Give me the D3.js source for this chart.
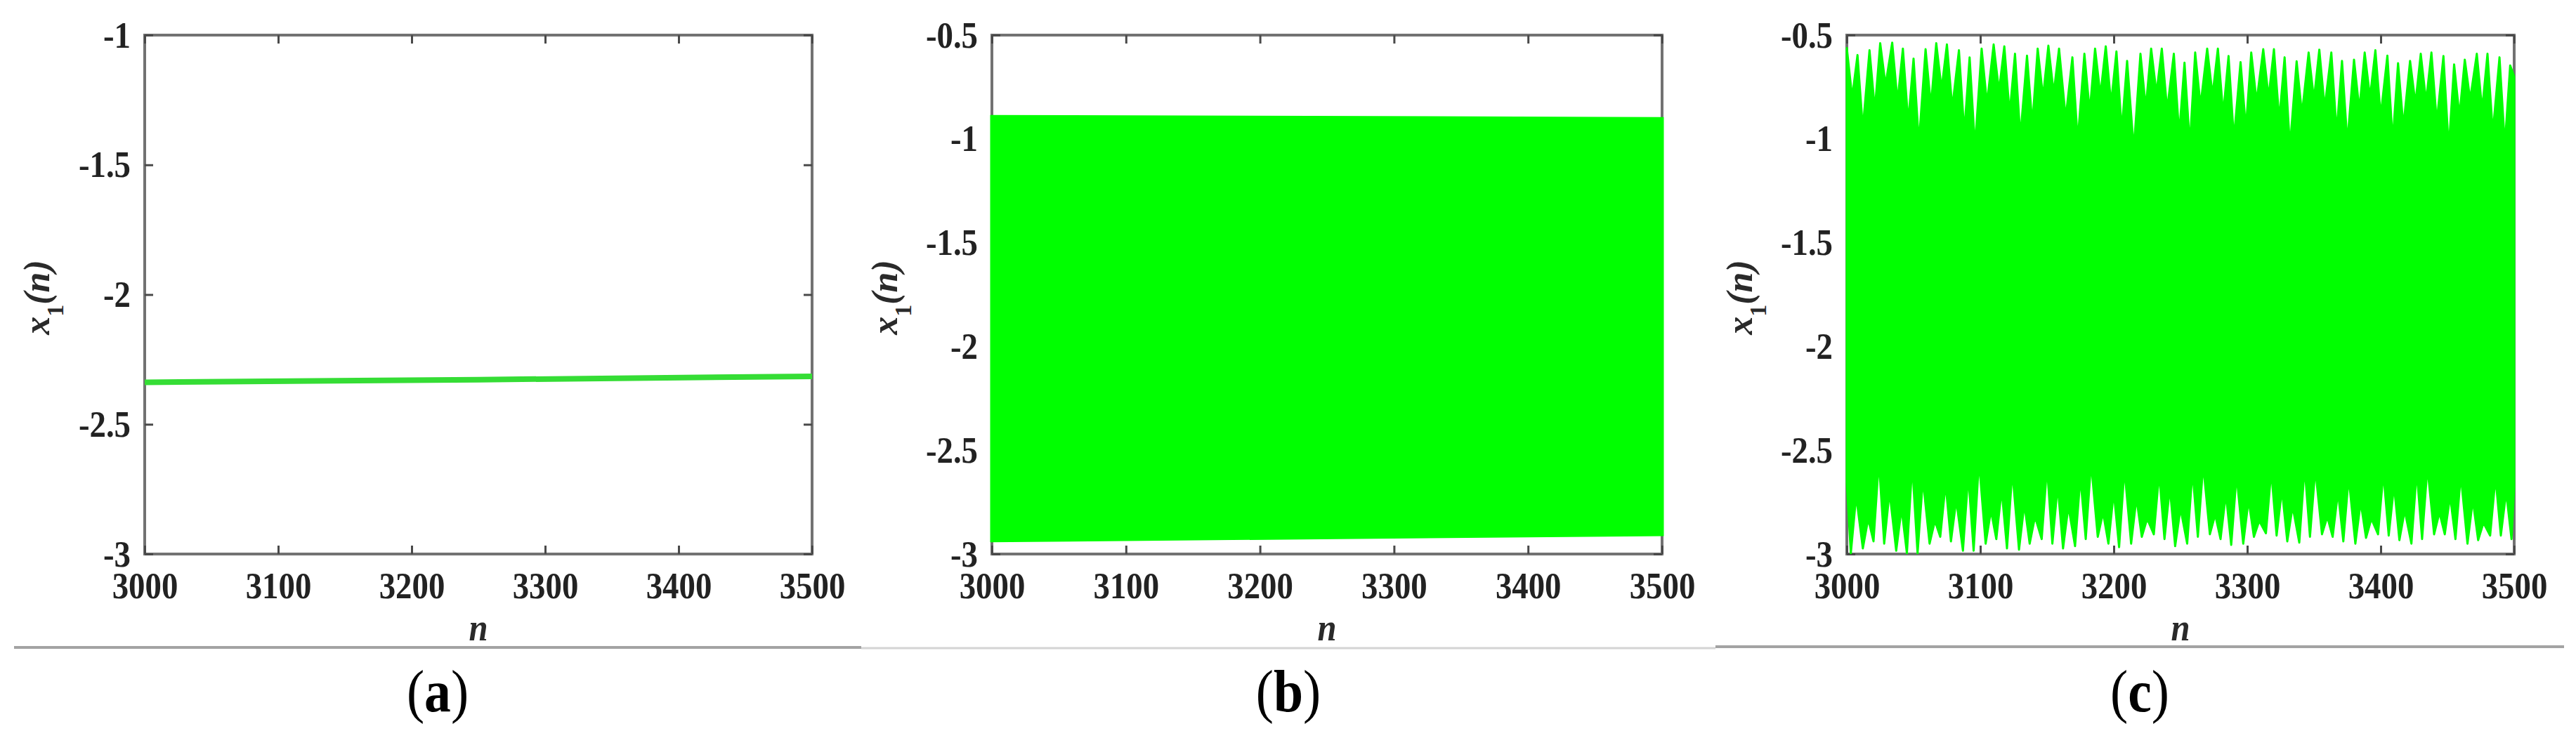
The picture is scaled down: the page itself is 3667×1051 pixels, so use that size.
<!DOCTYPE html>
<html><head><meta charset="utf-8">
<script src="https://cdn.jsdelivr.net/npm/d3@7"></script>
<style>html,body{margin:0;padding:0;background:#fff;} svg{display:block}</style>
</head><body>
<svg id="chart" width="3667" height="1051"></svg>
<script>
// ---------------- data ----------------
const xDomain = [3000, 3500];
const xTicks = [3000, 3100, 3200, 3300, 3400, 3500];
const xTickLabels = ["3000", "3100", "3200", "3300", "3400", "3500"];
const yTicksA = [-3, -2.5, -2, -1.5, -1];
const yTickLabelsA = ["-3", "-2.5", "-2", "-1.5", "-1"];
const yTicksBC = [-3, -2.5, -2, -1.5, -1, -0.5];
const yTickLabelsBC = ["-3", "-2.5", "-2", "-1.5", "-1", "-0.5"];
const panelLabels = ["a", "b", "c"];
const xAxisTitle = "n";

// (a) fixed point: nearly flat line
const aN = [3000, 3250, 3500];
const aX = [-2.338, -2.328, -2.315];

// (b) period-2 oscillation: upper / lower envelopes
const bN = [3000, 3500];
const bUpper = [-0.893, -0.903];
const bLower = [-2.935, -2.905];

// (c) quasi-periodic oscillation: upper spikes and gaps, lower spikes and gaps
const cPeakN = [3000,3008,3017,3025,3034,3042,3050,3059,3067,3075,3084,3092,3101,3110,3118,3126,3135,3143,3151,3159,
  3169,3178,3186,3194,3202,3210,3220,3228,3236,3245,3253,3261,3270,3278,3286,3295,3303,3312,3320,3328,
  3337,3346,3354,3363,3371,3380,3388,3396,3405,3413,3422,3430,3438,3447,3455,3463,3472,3480,3489,3497];
const cPeakX = [-0.562,-0.596,-0.573,-0.539,-0.536,-0.565,-0.613,-0.568,-0.539,-0.545,
  -0.573,-0.607,-0.565,-0.545,-0.554,-0.590,-0.599,-0.565,-0.551,-0.565,
  -0.607,-0.590,-0.565,-0.554,-0.579,-0.624,-0.590,-0.565,-0.565,-0.590,
  -0.633,-0.584,-0.565,-0.565,-0.601,-0.630,-0.584,-0.568,-0.568,-0.607,
  -0.626,-0.584,-0.570,-0.584,-0.624,-0.618,-0.584,-0.573,-0.599,-0.635,
  -0.624,-0.590,-0.584,-0.601,-0.641,-0.618,-0.590,-0.590,-0.607,-0.646];
const cGapN = [3004,3012,3021,3029,3038,3046,3054,3063,3071,3079,3088,3096,3105,3114,3122,3130,3139,3147,3155,3164,
  3173,3182,3190,3198,3206,3215,3224,3232,3240,3249,3257,3265,3274,3282,3290,3299,3307,3316,3324,3332,
  3341,3350,3358,3367,3375,3384,3392,3400,3409,3417,3426,3434,3442,3451,3459,3467,3476,3484,3493,3500];
const cGapX = [-0.80,-0.95,-0.86,-0.74,-0.82,-0.92,-1.02,-0.84,-0.76,-0.85,
  -0.97,-1.04,-0.83,-0.77,-0.88,-0.99,-0.93,-0.80,-0.78,-0.90,
  -1.01,-0.87,-0.79,-0.83,-0.96,-1.05,-0.85,-0.78,-0.86,-0.98,
  -1.03,-0.84,-0.79,-0.88,-1.00,-0.95,-0.82,-0.80,-0.91,-1.04,
  -0.88,-0.81,-0.85,-0.97,-1.02,-0.86,-0.80,-0.89,-1.01,-0.94,
  -0.83,-0.82,-0.92,-1.05,-0.89,-0.81,-0.86,-0.97,-1.03,-0.70];
const cTroughN = [3003,3012,3020,3028,3037,3045,3053,3062,3070,3078,3087,3095,3104,3112,3120,3129,3137,3146,3154,3162,
  3171,3179,3188,3196,3204,3213,3221,3230,3238,3246,3255,3263,3272,3280,3288,3297,3305,3314,3322,3330,
  3339,3347,3356,3364,3372,3381,3389,3398,3406,3414,3423,3431,3440,3448,3456,3465,3473,3482,3490,3498];
const cTroughX = [-2.996,-2.973,-2.939,-2.950,-2.984,-2.996,-2.996,-2.950,-2.917,-2.939,
  -2.984,-2.984,-2.950,-2.928,-2.973,-2.979,-2.950,-2.928,-2.950,-2.973,
  -2.962,-2.928,-2.917,-2.950,-2.967,-2.950,-2.917,-2.905,-2.928,-2.962,
  -2.950,-2.917,-2.905,-2.928,-2.956,-2.950,-2.917,-2.900,-2.911,-2.939,
  -2.945,-2.917,-2.905,-2.917,-2.939,-2.950,-2.922,-2.905,-2.911,-2.933,
  -2.950,-2.928,-2.905,-2.905,-2.928,-2.950,-2.933,-2.911,-2.911,-2.928];
const cCrestN = [3000,3007,3016,3024,3032,3041,3049,3057,3066,3074,3082,3091,3099,3108,3116,3124,3133,3141,3150,3158,
  3166,3175,3183,3192,3200,3208,3217,3225,3234,3242,3250,3259,3267,3276,3284,3292,3301,3309,3318,3326,
  3334,3343,3351,3360,3368,3376,3385,3393,3402,3410,3418,3427,3435,3444,3452,3460,3469,3477,3486,3494,3500];
const cCrestX = [-2.66,-2.72,-2.83,-2.55,-2.70,-2.78,-2.57,-2.64,-2.84,-2.66,
  -2.74,-2.62,-2.55,-2.79,-2.69,-2.60,-2.76,-2.82,-2.58,-2.67,
  -2.77,-2.63,-2.56,-2.80,-2.70,-2.59,-2.73,-2.83,-2.61,-2.68,
  -2.78,-2.60,-2.57,-2.81,-2.71,-2.62,-2.74,-2.84,-2.60,-2.69,
  -2.77,-2.58,-2.59,-2.82,-2.70,-2.63,-2.75,-2.83,-2.61,-2.67,
  -2.79,-2.60,-2.58,-2.80,-2.72,-2.62,-2.74,-2.85,-2.63,-2.70,-2.68];

// ---------------- layout ----------------
const layout = [
  {left:206,  right:1156, top:50, bottom:789, yDomain:[-3,-1],   yTicks:yTicksA,  yLabels:yTickLabelsA,  ylX:70,   ruleX:[20,1226],   ruleY:922, ruleColor:"#a3a3a3", ruleW:4},
  {left:1412, right:2366, top:50, bottom:789, yDomain:[-3,-0.5], yTicks:yTicksBC, yLabels:yTickLabelsBC, ylX:1277, ruleX:[1226,2442], ruleY:923, ruleColor:"#d4d4d4", ruleW:3},
  {left:2629, right:3579, top:50, bottom:789, yDomain:[-3,-0.5], yTicks:yTicksBC, yLabels:yTickLabelsBC, ylX:2494, ruleX:[2442,3650], ruleY:921, ruleColor:"#a3a3a3", ruleW:4}
];
const GREEN = "#00ff00";
const FONT = "'Liberation Serif', 'Times New Roman', serif";
const SQ = 0.9;

const svg = d3.select("#chart");

function squeeze(sel) {
  sel.each(function() {
    const w = this.getComputedTextLength();
    if (w > 0) d3.select(this).attr("textLength", w * SQ).attr("lengthAdjust", "spacingAndGlyphs");
  });
}

function styleAxis(g) {
  g.select(".domain").remove();
  g.selectAll(".tick line").attr("stroke", "#4a4a4a").attr("stroke-width", 3);
  g.selectAll("text").attr("fill", "#222").style("font-family", FONT).style("font-weight", "bold").style("font-size", "52px");
}

layout.forEach((L, i) => {
  const x = d3.scaleLinear().domain(xDomain).range([L.left, L.right]);
  const y = d3.scaleLinear().domain(L.yDomain).range([L.bottom, L.top]);
  const g = svg.append("g");

  // box
  g.append("rect").attr("x", L.left).attr("y", L.top)
    .attr("width", L.right - L.left).attr("height", L.bottom - L.top)
    .attr("fill", "none").attr("stroke", "#727272").attr("stroke-width", 4);

  // axes (ticks inward, mirrored)
  const gB = g.append("g").attr("transform", `translate(0,${L.bottom})`)
    .call(d3.axisBottom(x).tickValues(xTicks).tickFormat((d, k) => xTickLabels[k]).tickSize(-12).tickSizeOuter(0));
  styleAxis(gB);
  gB.selectAll("text").attr("y", 63).attr("dy", 0);
  squeeze(gB.selectAll("text"));

  const gT = g.append("g").attr("transform", `translate(0,${L.top})`)
    .call(d3.axisTop(x).tickValues(xTicks).tickFormat("").tickSize(-12).tickSizeOuter(0));
  styleAxis(gT);

  const gL = g.append("g").attr("transform", `translate(${L.left},0)`)
    .call(d3.axisLeft(y).tickValues(L.yTicks).tickFormat((d, k) => L.yLabels[k]).tickSize(-12).tickSizeOuter(0));
  styleAxis(gL);
  gL.selectAll("text").attr("x", -20).attr("dy", "0.33em");
  squeeze(gL.selectAll("text"));

  const gR = g.append("g").attr("transform", `translate(${L.right},0)`)
    .call(d3.axisRight(y).tickValues(L.yTicks).tickFormat("").tickSize(-12).tickSizeOuter(0));
  styleAxis(gR);

  // data
  if (i === 0) {
    const line = d3.line().x((d, k) => x(aN[k])).y(d => y(d));
    g.append("path").attr("d", line(aX)).attr("fill", "none")
      .attr("stroke", "#35dd35").attr("stroke-width", 8);
  } else if (i === 1) {
    const area = d3.area().x((d, k) => x(bN[k])).y0((d, k) => y(bLower[k])).y1((d, k) => y(bUpper[k]));
    g.append("path").attr("d", area(bN)).attr("fill", GREEN)
      .attr("stroke", GREEN).attr("stroke-width", 5);
  } else {
    const upper = cPeakN.map((n, k) => ({n, v: cPeakX[k]}))
      .concat(cGapN.map((n, k) => ({n, v: cGapX[k]})))
      .sort((a, b) => a.n - b.n);
    const lower = cTroughN.map((n, k) => ({n, v: cTroughX[k]}))
      .concat(cCrestN.map((n, k) => ({n, v: cCrestX[k]})))
      .sort((a, b) => a.n - b.n);
    const pts = upper.concat(lower.reverse());
    const line = d3.line().x(d => x(d.n)).y(d => y(d.v));
    g.append("path").attr("d", line(pts) + "Z").attr("fill", GREEN)
      .attr("stroke", GREEN).attr("stroke-width", 3).attr("stroke-linejoin", "round");
  }

  // y axis title x1(n)
  const cy = (L.top + L.bottom) / 2 + 4;
  const yt = g.append("text").attr("transform", `translate(${L.ylX},${cy}) rotate(-90)`)
    .attr("text-anchor", "middle").attr("fill", "#2a2a2a")
    .style("font-family", FONT).style("font-weight", "bold").style("font-style", "italic").style("font-size", "52px");
  yt.append("tspan").text("x");
  yt.append("tspan").attr("dy", 20).style("font-size", "34px").style("font-style", "normal").text("1");
  yt.append("tspan").attr("dy", -20).text("(n)");

  // x axis title
  const xt = g.append("text").attr("x", (L.left + L.right) / 2).attr("y", 912)
    .attr("text-anchor", "middle").attr("fill", "#2a2a2a")
    .style("font-family", FONT).style("font-weight", "bold").style("font-style", "italic").style("font-size", "54px")
    .text(xAxisTitle);
  squeeze(xt);

  // separator rule
  g.append("line").attr("x1", L.ruleX[0]).attr("x2", L.ruleX[1]).attr("y1", L.ruleY).attr("y2", L.ruleY)
    .attr("stroke", L.ruleColor).attr("stroke-width", L.ruleW);

  // panel label (a)/(b)/(c)
  const pl = g.append("text").attr("x", (L.ruleX[0] + L.ruleX[1]) / 2).attr("y", 1013)
    .attr("text-anchor", "middle").attr("fill", "#000")
    .style("font-family", FONT).style("font-size", "84px");
  pl.append("tspan").text("(");
  pl.append("tspan").style("font-weight", "bold").text(panelLabels[i]);
  pl.append("tspan").text(")");
  squeeze(pl);
});
</script>
</body></html>
